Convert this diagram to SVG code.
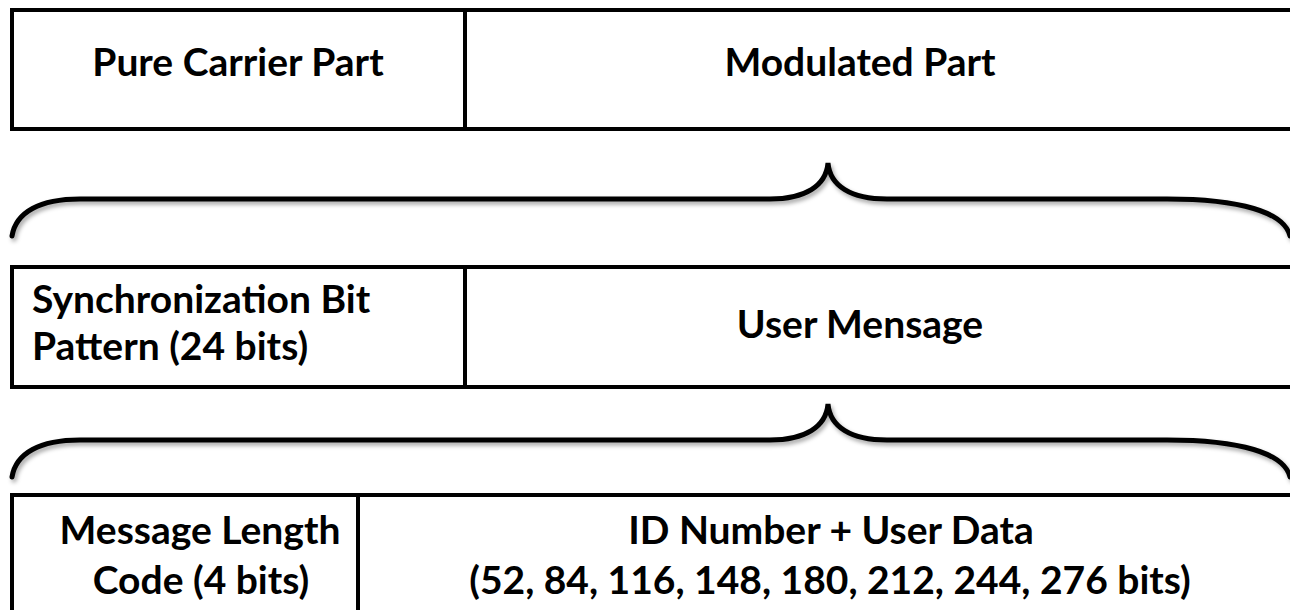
<svg xmlns="http://www.w3.org/2000/svg" width="1290" height="610" viewBox="0 0 1290 610">
<style>
.box{fill:#fff;stroke:#000;stroke-width:4}
.div{stroke:#000;stroke-width:4}
.brace{fill:none;stroke:#000;stroke-width:5;stroke-linecap:round}
.t{font-family:Lato,"Liberation Sans",sans-serif;font-weight:700;font-size:39px;fill:#000}
.m{text-anchor:middle}
</style>
<defs>
<filter id="sh" x="-5%" y="-20%" width="110%" height="160%">
<feDropShadow dx="2" dy="3" stdDeviation="2" flood-color="#000" flood-opacity="0.35"/>
</filter>
</defs>
<g id="row1">
<rect class="box" x="12" y="10" width="1290" height="119"/>
<line class="div" x1="465" y1="10" x2="465" y2="129"/>
<text class="t m" x="238" y="76">Pure Carrier Part</text>
<text class="t m" x="860" y="76">Modulated Part</text>
</g>
<g id="row2">
<rect class="box" x="12" y="267" width="1290" height="120"/>
<line class="div" x1="465" y1="267" x2="465" y2="387"/>
<text class="t" x="32" y="313">Synchronization Bit</text>
<text class="t" x="32" y="360">Pattern (24 bits)</text>
<text class="t m" x="860" y="338">User Mensage</text>
</g>
<g id="row3">
<rect class="box" x="12" y="495" width="1290" height="130"/>
<line class="div" x1="358" y1="495" x2="358" y2="625"/>
<text class="t m" x="200" y="544">Message Length</text>
<text class="t m" x="201" y="594">Code (4 bits)</text>
<text class="t m" x="831" y="544">ID Number + User Data</text>
<text class="t m" x="830" y="594">(52, 84, 116, 148, 180, 212, 244, 276 bits)</text>
</g>
<g id="connectors" filter="url(#sh)">
<path class="brace" d="M12,236 C16,212 40,199 80,199 L770,199 C805,199 826,186 828,163 C830,186 851,199 887,199 L1167,199 C1240,199 1284,212 1290,236"/>
<path class="brace" d="M12,477 C16,453 40,440 80,440 L770,440 C805,440 826,427 828,404 C830,427 851,440 887,440 L1167,440 C1240,440 1284,453 1290,477"/>
</g>
</svg>
